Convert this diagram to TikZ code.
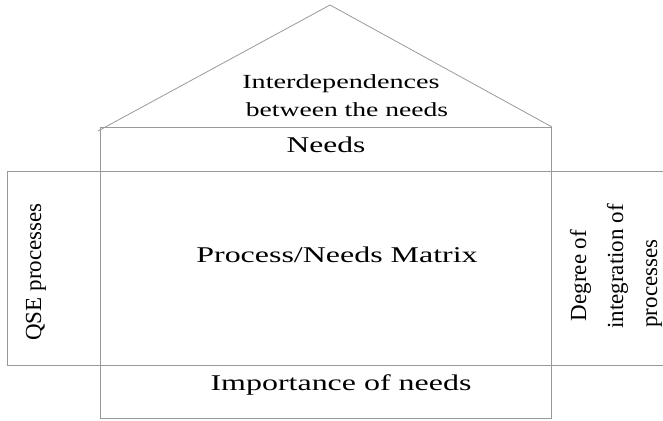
\documentclass[tikz,border=0pt]{standalone}
\usepackage{fontspec}
\setmainfont{Liberation Serif}
\definecolor{linegray}{rgb}{0.6,0.6,0.6}
\begin{document}
\begin{tikzpicture}[x=1pt,y=-1pt,
  frame/.style={draw=linegray,line width=0.8pt},
  htext/.style={anchor=base,inner sep=0pt,text=black},
  vtext/.style={anchor=base,inner sep=0pt,rotate=90,text=black,font=\fontsize{23}{27}\selectfont}]
\useasboundingbox (0,0) rectangle (663,420);
% shapes
\draw[frame] (100,127) rectangle (551,418);
\draw[frame] (7,171) rectangle (690,365);
\coordinate (roofL) at (98,131);
\coordinate (apex) at (330,5);
\coordinate (roofR) at (552,127);
\draw[frame] (roofL) -- (apex) -- (roofR);
% texts
\node[htext,font=\fontsize{20}{24}\selectfont] (inter1) at (341,88) {\scalebox{1.41}[1]{Interdependences}};
\node[htext,font=\fontsize{20}{24}\selectfont] (inter2) at (347,116) {\scalebox{1.38}[1]{between the needs}};
\node[htext,font=\fontsize{22.5}{26}\selectfont] (needs) at (326,152) {\scalebox{1.40}[1]{Needs}};
\node[htext,font=\fontsize{22.5}{26}\selectfont] (matrix) at (337,262) {\scalebox{1.42}[1]{Process/Needs Matrix}};
\node[htext,font=\fontsize{22.5}{26}\selectfont] (importance) at (341,390) {\scalebox{1.42}[1]{Importance of needs}};
\node[vtext] (qse) at (41,272) {QSE processes};
\node[vtext] (deg1) at (586,275.5) {Degree of};
\node[vtext] (deg2) at (623,266.5) {integration of};
\node[vtext] (deg3) at (657,283.5) {processes};
\end{tikzpicture}
\end{document}
